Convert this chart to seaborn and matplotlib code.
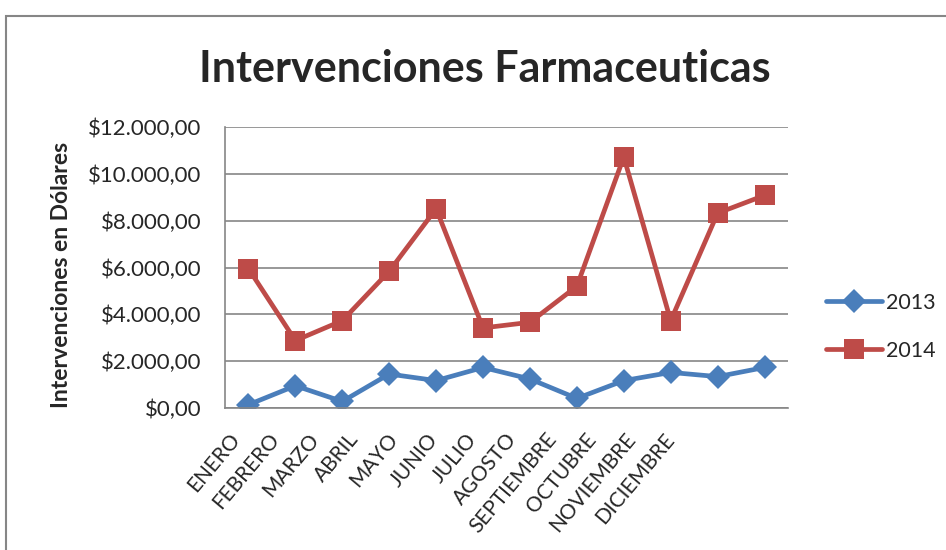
import pandas as pd
import numpy as np
import matplotlib
matplotlib.use("Agg")
import matplotlib.pyplot as plt
import seaborn as sns
from matplotlib.patches import Rectangle
from matplotlib.ticker import FuncFormatter
from matplotlib.transforms import ScaledTranslation

# data
meses = ['ENERO', 'FEBRERO', 'MARZO', 'ABRIL', 'MAYO', 'JUNIO', 'JULIO',
         'AGOSTO', 'SEPTIEMBRE', 'OCTUBRE', 'NOVIEMBRE', 'DICIEMBRE']
v2013 = [140, 950, 280, 1450, 1170, 1730, 1240, 410, 1170, 1520, 1340, 1730]
v2014 = [5950, 2880, 3730, 5840, 8510, 3420, 3660, 5200, 10720, 3730, 8320, 9080]

df = pd.DataFrame({
    'mes': meses * 2,
    'valor': v2013 + v2014,
    'anio': ['2013'] * 12 + ['2014'] * 12,
})

sns.set_style('white')
plt.rcParams['font.family'] = ['Lato', 'DejaVu Sans']

fig = plt.figure(figsize=(9.46, 5.5), dpi=100)
ax = fig.add_axes([225 / 946, 1 - 408 / 550, 563 / 946, 281 / 550])

colores = {'2013': '#4A7EBB', '2014': '#BE4B48'}
sns.lineplot(data=df, x='mes', y='valor', hue='anio', style='anio',
             markers={'2013': 'D', '2014': 's'}, dashes=False,
             palette=colores, linewidth=3.4, markersize=12,
             markeredgewidth=0, sort=False, ax=ax)
for ln in ax.lines:
    if ln.get_marker() == 's':
        ln.set_markersize(14.5)
    else:
        ln.set_markersize(12)

ax.set_xlim(-0.5, 11.5)
ax.set_ylim(0, 12000)
ax.set_yticks(np.arange(0, 12001, 2000))
ax.yaxis.set_major_formatter(FuncFormatter(
    lambda v, p: '$' + f'{v:,.2f}'.replace(',', 'X').replace('.', ',').replace('X', '.')))
ax.grid(axis='y', color='#868686', linewidth=1.2)
ax.set_axisbelow(True)
for s in ['top', 'right']:
    ax.spines[s].set_visible(False)
for s in ['left', 'bottom']:
    ax.spines[s].set_color('#868686')
    ax.spines[s].set_linewidth(1.2)

ax.tick_params(axis='y', labelsize=16, pad=17, length=0)
ax.tick_params(axis='x', labelsize=15, length=0, pad=20)
ax.set_xticks(range(len(meses)))
ax.set_xticklabels(meses)
# the month labels in the original sit a little tighter than the points
for i, lab in enumerate(ax.get_xticklabels()):
    lab.set_rotation(50)
    lab.set_ha('right')
    lab.set_va('center')
    lab.set_rotation_mode('anchor')
    dx = (-12 - 7.4 * i) / 100
    lab.set_transform(lab.get_transform() + ScaledTranslation(dx, 0, fig.dpi_scale_trans))
ax.set_xlabel('')
ax.set_ylabel('Intervenciones en Dólares', fontsize=16.5, fontweight='bold')
ax.yaxis.set_label_coords(-0.272, 0.473)

fig.suptitle('Intervenciones Farmaceuticas', x=0.513, y=0.91, fontsize=31,
             fontweight='bold')

fig.legend(*ax.get_legend_handles_labels(), frameon=False, fontsize=15.5,
           loc='center left', bbox_to_anchor=(826 / 946, 1 - 327 / 550),
           borderaxespad=0, borderpad=0, handlelength=2.6, labelspacing=1.3,
           handletextpad=0.2)
ax.get_legend().remove()

# outer chart border
fig.patches.append(Rectangle((6 / 946, -0.1), 1.1, (550 - 16) / 550 + 0.1,
                             transform=fig.transFigure, fill=False,
                             edgecolor='#868686', linewidth=1.5))

fig.savefig('out.png', dpi=100)
